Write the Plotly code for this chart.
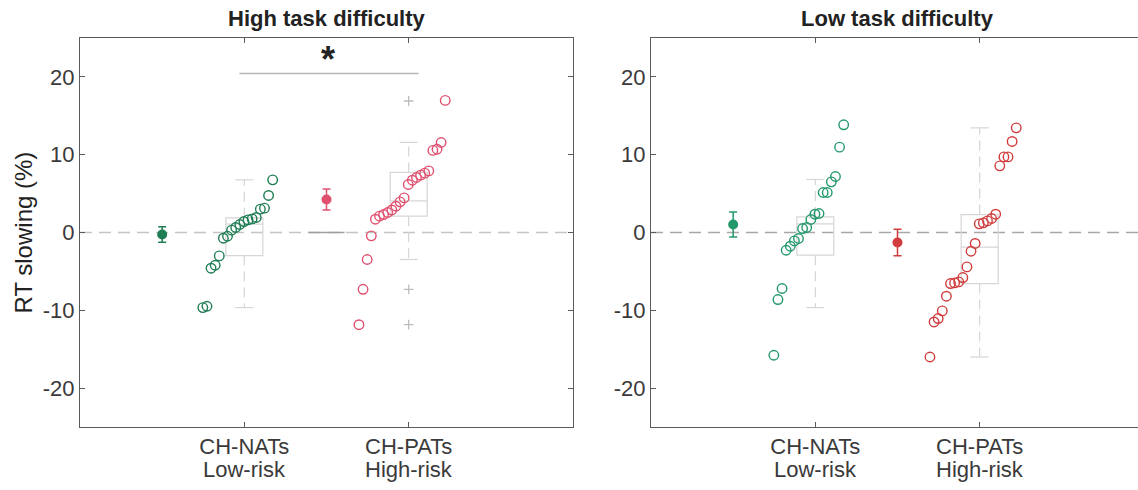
import numpy as np
import plotly.graph_objects as go

# ---------------- data ----------------
categories = ["CH-NATs", "CH-PATs"]
risk_labels = ["Low-risk", "High-risk"]
panel_titles = ["High task difficulty", "Low task difficulty"]
y_ticks = [-20, -10, 0, 10, 20]
y_tick_labels = ["-20", "-10", "0", "10", "20"]

# individual RT slowing values (%), sorted
high_nats = [-9.65, -9.48, -4.59, -4.21, -3.01, -0.73, -0.48, 0.30, 0.64, 1.03,
             1.41, 1.62, 1.75, 1.93, 3.00, 3.13, 4.76, 6.77]
high_pats = [-11.85, -7.30, -3.47, -0.43, 1.71, 2.10, 2.31, 2.57, 2.90, 3.38, 3.94,
             4.45, 6.17, 6.72, 7.07, 7.37, 7.63, 7.92, 10.55, 10.71, 11.57, 16.98]
low_nats = [-15.78, -8.62, -7.20, -2.28, -1.76, -1.08, -0.77, 0.51, 0.64, 1.67,
            2.35, 2.44, 5.14, 5.14, 6.51, 7.20, 10.97, 13.84]
low_pats = [-16.00, -11.50, -11.06, -10.08, -8.19, -6.56, -6.48, -6.35, -5.79, -4.42,
            -2.41, -1.41, 1.11, 1.24, 1.49, 1.80, 2.35, 8.57, 9.72, 9.72, 11.70, 13.45]

# group means and SEM
high_means = [-0.26, 4.24]
high_sem = [1.0, 1.35]
low_means = [1.03, -1.29]
low_sem = [1.6, 1.7]

# box-plot statistics [lower whisker, q1, median, q3, upper whisker]
high_box = [[-9.65, -2.96, 1.07, 1.88, 6.77], [-3.47, 2.10, 4.07, 7.72, 11.58]]
low_box = [[-9.65, -2.92, 1.10, 2.00, 6.82], [-16.0, -6.56, -1.89, 2.30, 13.45]]
high_outliers = [[], [16.9, -7.3, -11.83]]
low_outliers = [[], []]

sig_bracket = [0.97, 2.06, 20.45]   # x0, x1, y
sig_star_pos = [1.51, 22.3]

colors_high = ["#1e7d53", "#e0506f"]
colors_low = ["#23996b", "#d13d3d"]

# ---------------- figure ----------------
W, H = 1138, 490
FONT = "Liberation Sans, Arial, Helvetica, sans-serif"
AX = "#5a5a5a"
TXT = "#3a3a3a"

fig = go.Figure()

panels = [
    dict(vals=[high_nats, high_pats], means=high_means, sem=high_sem, box=high_box,
         out=high_outliers, cols=colors_high, xa="x", ya="y", zc="#c4c4c4"),
    dict(vals=[low_nats, low_pats], means=low_means, sem=low_sem, box=low_box,
         out=low_outliers, cols=colors_low, xa="x2", ya="y2", zc="#a8a8a8"),
]

shapes = []
annotations = []
box_half = 0.1125
cap_half = 0.055
step = 0.025

for p in panels:
    xref, yref = p["xa"], p["ya"]
    shapes.append(dict(type="line", xref=xref + " domain", yref=yref, x0=0, x1=1, y0=0, y1=0,
                       line=dict(color=p["zc"], width=1.3, dash="12px,7px"), layer="below"))
    for g in range(2):
        c = g + 1
        lo, q1, med, q3, hi = p["box"][g]
        bc = "#d6d6d6"
        shapes.append(dict(type="rect", xref=xref, yref=yref, x0=c - box_half, x1=c + box_half,
                           y0=q1, y1=q3, line=dict(color=bc, width=1.2), layer="below"))
        shapes.append(dict(type="line", xref=xref, yref=yref, x0=c - box_half, x1=c + box_half,
                           y0=med, y1=med, line=dict(color=bc, width=1.2), layer="below"))
        for a, b in [(q3, hi), (q1, lo)]:
            shapes.append(dict(type="line", xref=xref, yref=yref, x0=c, x1=c, y0=a, y1=b,
                               line=dict(color=bc, width=1.2, dash="10px,6px"), layer="below"))
        for v in (lo, hi):
            shapes.append(dict(type="line", xref=xref, yref=yref, x0=c - cap_half, x1=c + cap_half,
                               y0=v, y1=v, line=dict(color=bc, width=1.2), layer="below"))
        if p["out"][g]:
            fig.add_trace(go.Scatter(x=[c] * len(p["out"][g]), y=p["out"][g], mode="markers",
                                     xaxis=xref, yaxis=yref, showlegend=False,
                                     marker=dict(symbol="cross-thin", size=7,
                                                 line=dict(color="#bdbdbd", width=1.3))))
        vals = p["vals"][g]
        n = len(vals)
        xs = [c - 0.04 + (i - (n - 1) / 2) * step for i in range(n)]
        fig.add_trace(go.Scatter(x=xs, y=vals, mode="markers", xaxis=xref, yaxis=yref,
                                 showlegend=False,
                                 marker=dict(symbol="circle-open", size=9.5,
                                             line=dict(color=p["cols"][g], width=1.4),
                                             color=p["cols"][g])))
        fig.add_trace(go.Scatter(x=[c - 0.5], y=[p["means"][g]], mode="markers",
                                 xaxis=xref, yaxis=yref, showlegend=False,
                                 marker=dict(symbol="circle", size=10, color=p["cols"][g]),
                                 error_y=dict(type="data", array=[p["sem"][g]], color=p["cols"][g],
                                              thickness=1.5, width=4)))

shapes.append(dict(type="line", xref="x", yref="y", x0=1.39, x1=1.61, y0=0, y1=0,
                   line=dict(color="#a0a0a0", width=1.3), layer="below"))
shapes.append(dict(type="line", xref="x", yref="y", x0=sig_bracket[0], x1=sig_bracket[1],
                   y0=sig_bracket[2], y1=sig_bracket[2], line=dict(color="#b8b8b8", width=1.5)))
annotations.append(dict(text="<b>*</b>", x=sig_star_pos[0], y=sig_star_pos[1], xref="x", yref="y",
                        showarrow=False, font=dict(size=36, color="#222", family=FONT),
                        xanchor="center", yanchor="middle"))

for xr, t in zip(["x", "x2"], panel_titles):
    annotations.append(dict(text="<b>%s</b>" % t, x=1.5, xref=xr, y=1, yref="paper",
                            xanchor="center", yanchor="bottom", yshift=5, showarrow=False,
                            font=dict(size=22, color="#222", family=FONT)))
for xr in ["x", "x2"]:
    for i, lab in enumerate(risk_labels):
        annotations.append(dict(text=lab, x=i + 1, xref=xr, y=0, yref="paper",
                                xanchor="center", yanchor="top", yshift=-28, showarrow=False,
                                font=dict(size=22, color=TXT, family=FONT)))
annotations.append(dict(text="RT slowing (%)", x=23 / W, xref="paper", y=0.5, yref="paper",
                        textangle=-90, xanchor="center", yanchor="middle", showarrow=False,
                        font=dict(size=24, color="#222", family=FONT)))

px_per_unit = 493 / 3.0
x2_end = (1138 - 651) / px_per_unit

common_x = dict(tickvals=[1, 2], ticktext=categories, ticks="inside", ticklen=5, tickcolor=AX,
                showline=True, linecolor=AX, linewidth=1, showgrid=False, zeroline=False,
                mirror="ticks", tickfont=dict(size=22, color=TXT, family=FONT))
common_y = dict(range=[-25, 25], tickvals=y_ticks, ticktext=y_tick_labels, ticks="inside",
                ticklen=5, tickcolor=AX, showline=True, linecolor=AX, linewidth=1,
                showgrid=False, zeroline=False, tickfont=dict(size=22, color=TXT, family=FONT))

top_px, bot_px = 38, 427
fig.update_layout(
    width=W, height=H, margin=dict(l=0, r=0, t=top_px, b=H - bot_px, autoexpand=False),
    paper_bgcolor="white", plot_bgcolor="white", showlegend=False,
    xaxis=dict(domain=[80 / W, 573 / W], range=[0, 3], anchor="y", **common_x),
    yaxis=dict(domain=[0, 1], anchor="x", mirror="ticks", **common_y),
    xaxis2=dict(domain=[651 / W, 1.0], range=[0, x2_end], anchor="y2", **common_x),
    yaxis2=dict(domain=[0, 1], anchor="x2", mirror=False, **common_y),
    shapes=shapes, annotations=annotations,
)

fig.write_html("out.html", config={"displayModeBar": False},
               post_script="document.body.style.margin='0px';")
